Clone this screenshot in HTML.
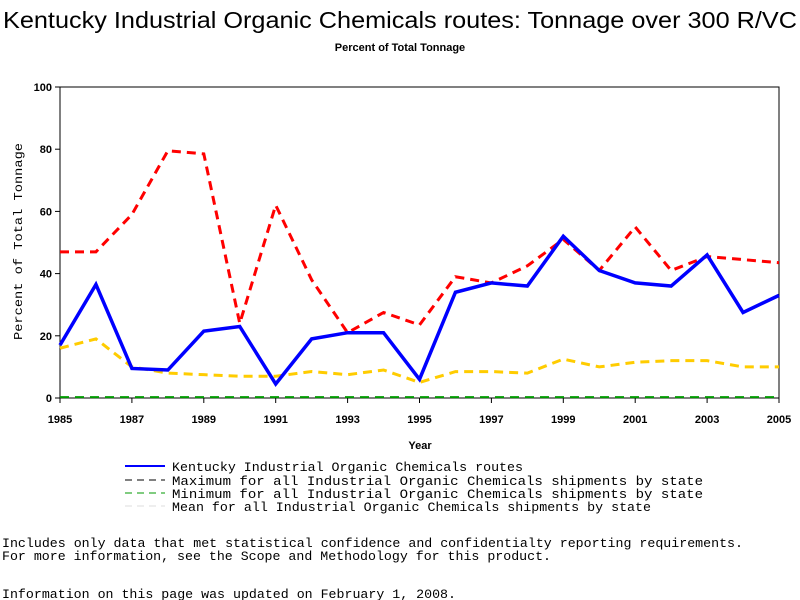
<!DOCTYPE html>
<html><head><meta charset="utf-8"><style>
body{margin:0;background:#fff;width:800px;height:600px;overflow:hidden}
svg{display:block}
</style></head><body>
<svg width="800" height="600" xmlns="http://www.w3.org/2000/svg">
<text x="3" y="28" textLength="794" lengthAdjust="spacingAndGlyphs" font-family="Liberation Sans, sans-serif" font-size="23">Kentucky Industrial Organic Chemicals routes: Tonnage over 300 R/VC</text>
<text x="400" y="51" text-anchor="middle" font-family="Liberation Sans, sans-serif" font-size="11" font-weight="bold">Percent of Total Tonnage</text>
<rect x="60" y="87" width="719" height="311" fill="none" stroke="#000"/>
<g id="axes"></g>
<g id="series"></g>
<text x="420" y="449" text-anchor="middle" font-family="Liberation Sans, sans-serif" font-size="11" font-weight="bold">Year</text>
<text transform="translate(22,340) rotate(-90)" textLength="197" lengthAdjust="spacingAndGlyphs" font-family="Liberation Mono, monospace" font-size="12">Percent of Total Tonnage</text>
<g font-family="Liberation Mono, monospace" font-size="13">
<line x1="125" y1="466" x2="165" y2="466" stroke="#0000ff" stroke-width="2"/>
<text x="172" y="471" textLength="351" lengthAdjust="spacingAndGlyphs">Kentucky Industrial Organic Chemicals routes</text>
<line x1="125" y1="480" x2="165" y2="480" stroke="#000" stroke-dasharray="7,5"/>
<text x="172" y="485" textLength="531" lengthAdjust="spacingAndGlyphs">Maximum for all Industrial Organic Chemicals shipments by state</text>
<line x1="125" y1="493" x2="165" y2="493" stroke="#009900" stroke-dasharray="7,5"/>
<text x="172" y="498" textLength="531" lengthAdjust="spacingAndGlyphs">Minimum for all Industrial Organic Chemicals shipments by state</text>
<line x1="125" y1="506" x2="165" y2="506" stroke="#ddd" stroke-dasharray="7,5"/>
<text x="172" y="511" textLength="479" lengthAdjust="spacingAndGlyphs">Mean for all Industrial Organic Chemicals shipments by state</text>
</g>
<g font-family="Liberation Mono, monospace" font-size="13">
<text x="2" y="547" textLength="741" lengthAdjust="spacingAndGlyphs">Includes only data that met statistical confidence and confidentialty reporting requirements.</text>
<text x="2" y="560" textLength="549" lengthAdjust="spacingAndGlyphs">For more information, see the Scope and Methodology for this product.</text>
<text x="2" y="598" textLength="454" lengthAdjust="spacingAndGlyphs">Information on this page was updated on February 1, 2008.</text>
</g>
</svg>
<script>
const years=[1985,1986,1987,1988,1989,1990,1991,1992,1993,1994,1995,1996,1997,1998,1999,2000,2001,2002,2003,2004,2005];
const kentucky=[17,36.5,9.5,9,21.5,23,4.5,19,21,21,6,34,37,36,52,41,37,36,46,27.5,33];
const maximum=[47,47,59,79.5,78.5,24,62,38,21,27.5,23.5,39,37,42.5,51,41,55,41,45.5,44.5,43.5];
const minimum=[0.3,0.3,0.3,0.3,0.3,0.3,0.3,0.3,0.3,0.3,0.3,0.3,0.3,0.3,0.3,0.3,0.3,0.3,0.3,0.3,0.3];
const mean=[16,19,10,8,7.5,7,7,8.5,7.5,9,5,8.5,8.5,8,12.5,10,11.5,12,12,10,10];
const yTicks=[0,20,40,60,80,100];
const xTicks=[1985,1987,1989,1991,1993,1995,1997,1999,2001,2003,2005];
const NS='http://www.w3.org/2000/svg';
const X=v=>60+(v-1985)*(719/20);
const Y=v=>398-v*3.11;
const axes=document.getElementById('axes'),series=document.getElementById('series');
function mk(tag,attrs,parent){const e=document.createElementNS(NS,tag);for(const k in attrs)e.setAttribute(k,attrs[k]);parent.appendChild(e);return e;}
yTicks.forEach(t=>{
 const l=mk('line',{x1:55,x2:60,y1:Y(t),y2:Y(t),stroke:'#000'},axes);
 
 
 const tx=mk('text',{x:52,y:Y(t)+4,'text-anchor':'end','font-family':'Liberation Sans, sans-serif','font-size':11,'font-weight':'bold'},axes);
 tx.textContent=t;
 
 
});
xTicks.forEach(t=>{
 const l=mk('line',{x1:X(t),x2:X(t),y1:398,y2:403,stroke:'#000'},axes);
 
 
 const tx=mk('text',{x:X(t),y:423,'text-anchor':'middle','font-family':'Liberation Sans, sans-serif','font-size':11,'font-weight':'bold'},axes);
 tx.textContent=t;
 
 
});
function line(vals,color,dash,w,name){
 const p=mk('polyline',{points:vals.map((v,i)=>X(years[i])+','+Y(v)).join(' '),fill:'none',stroke:color,'stroke-width':w},series);
 if(dash)p.setAttribute('stroke-dasharray',dash);
 
 
}
line(minimum,'#009900','9,6',2,'series-minimum');
line(mean,'#ffcc00','9,6',3,'series-mean');
line(maximum,'#ff0000','9,6',3,'series-maximum');
line(kentucky,'#0000ff',null,3.5,'series-kentucky');
</script>
</body></html>
